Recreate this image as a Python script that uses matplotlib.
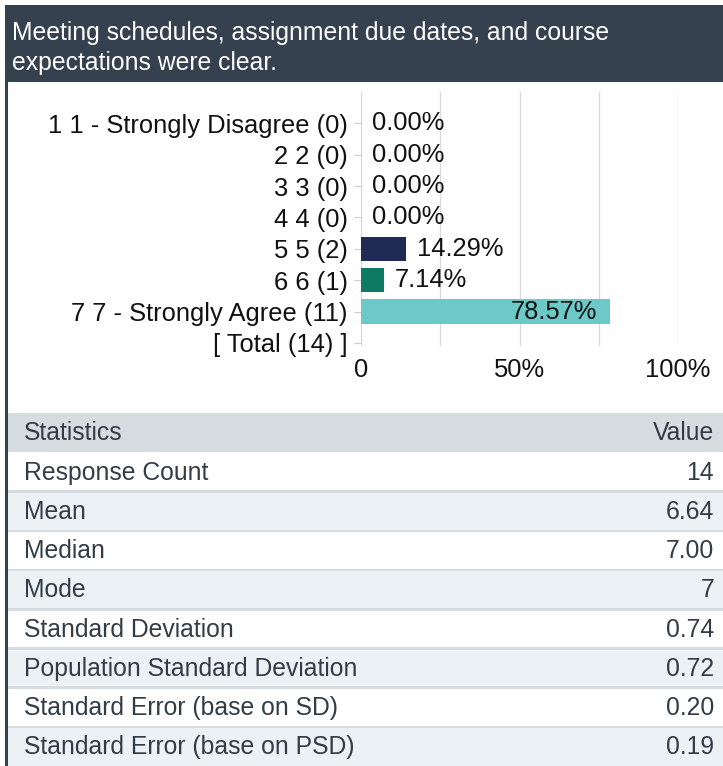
import matplotlib.pyplot as plt
from matplotlib.patches import Rectangle
import numpy as np

plt.rcParams['font.family'] = ['Liberation Sans', 'DejaVu Sans']

# data
title_lines = ['Meeting schedules, assignment due dates, and course',
               'expectations were clear.']
categories = ['1 1 - Strongly Disagree (0)', '2 2 (0)', '3 3 (0)', '4 4 (0)',
              '5 5 (2)', '6 6 (1)', '7 7 - Strongly Agree (11)', '[ Total (14) ]']
percents = [0.00, 0.00, 0.00, 0.00, 14.29, 7.14, 78.57]
bar_colors = ['#1f2a55', '#1f2a55', '#1f2a55', '#1f2a55', '#1f2a55', '#0e7a64', '#6cc9c7']
stat_names = ['Response Count', 'Mean', 'Median', 'Mode', 'Standard Deviation',
              'Population Standard Deviation', 'Standard Error (base on SD)',
              'Standard Error (base on PSD)']
stat_values = ['14', '6.64', '7.00', '7', '0.74', '0.72', '0.20', '0.19']

W, H = 723, 766
def fx(x):
    return x / W
def fy(y):
    return 1 - y / H

dark = '#36414f'
txt_dark = '#323c47'
fs = 17.8
fs_chart = 18.4

fig = plt.figure(figsize=(W / 100, H / 100), dpi=100)

# header band
fig.add_artist(Rectangle((fx(5), fy(82)), fx(W) - fx(5), 77 / H, color=dark, lw=0))
for i, line in enumerate(title_lines):
    fig.text(fx(12), fy(33 + 30 * i), line, color='white', fontsize=fs, va='center', ha='left')

# left border
fig.add_artist(Rectangle((fx(5), 0), 2.5 / W, fy(82), color=dark, lw=0))

# bar chart
ax = fig.add_axes([fx(361), fy(346), fx(678) - fx(361), (346 - 92) / H])
y = np.arange(len(percents))
ax.barh(y, percents, height=0.78, color=bar_colors, zorder=3)
for yi, p in zip(y, percents):
    if p > 50:
        ax.annotate(f'{p:.2f}%', (p, yi), xytext=(-9, 0), textcoords='offset points',
                    ha='right', va='center', fontsize=fs_chart, color='#111111', zorder=4)
    else:
        ax.annotate(f'{p:.2f}%', (p, yi), xytext=(8, 0), textcoords='offset points',
                    ha='left', va='center', fontsize=fs_chart, color='#111111', zorder=4)
ax.set_xlim(0, 100)
ax.set_ylim(7.1, -1.0)
ax.set_yticks(np.arange(len(categories)))
ax.set_yticklabels(categories, fontsize=fs_chart, color='#111111')
ax.set_xticks([0, 50, 100])
ax.set_xticklabels(['0', '50%', '100%'], fontsize=fs_chart, color='#111111')
ax.set_xticks([25, 75], minor=True)
ax.tick_params(axis='y', length=5, color='#cccccc', pad=4.5)
ax.tick_params(axis='x', which='both', length=0, pad=9)
ax.grid(axis='x', which='both', color='#dadada', lw=1, zorder=0)
for s in ax.spines.values():
    s.set_visible(False)

# statistics table
row_h = 39.2
top = 413
fig.add_artist(Rectangle((fx(8), fy(top + row_h)), fx(W) - fx(8), row_h / H,
                         color='#d5dde1', lw=0))
fig.text(fx(24), fy(top + row_h / 2), 'Statistics', fontsize=fs, color=txt_dark, va='center')
fig.text(fx(714), fy(top + row_h / 2), 'Value', fontsize=fs, color=txt_dark, va='center', ha='right')
for i, (name, val) in enumerate(zip(stat_names, stat_values)):
    y0 = top + row_h * (i + 1)
    bg = 'white' if i % 2 == 0 else '#ecf1f5'
    fig.add_artist(Rectangle((fx(8), fy(y0 + row_h)), fx(W) - fx(8), row_h / H, color=bg, lw=0))
    if i > 0:
        fig.add_artist(Rectangle((fx(8), fy(y0 + 1.5)), fx(W) - fx(8), 2.5 / H,
                                 color='#d5dde1', lw=0))
    fig.text(fx(24), fy(y0 + row_h / 2 + 1), name, fontsize=fs, color=txt_dark, va='center')
    fig.text(fx(714), fy(y0 + row_h / 2 + 1), val, fontsize=fs, color=txt_dark, va='center', ha='right')

fig.savefig('out.png', dpi=100)
